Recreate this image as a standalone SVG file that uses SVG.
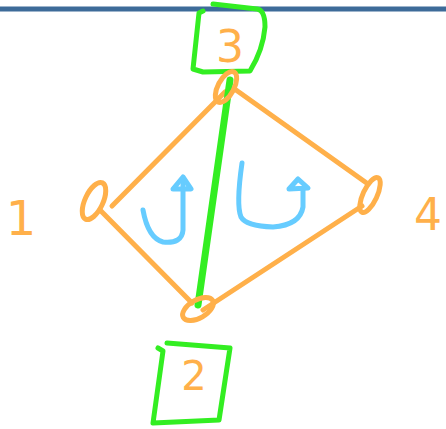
<svg xmlns="http://www.w3.org/2000/svg" width="446" height="429" viewBox="0 0 446 429">
<style>
.o{fill:none;stroke:#FFB04A;stroke-width:5;stroke-linecap:round;stroke-linejoin:round}
.g{fill:none;stroke:#33EE22;stroke-width:5;stroke-linecap:round;stroke-linejoin:round}
.b{fill:none;stroke:#66CCFF;stroke-width:5;stroke-linecap:round;stroke-linejoin:round}
.t{fill:#FFB04A;font-family:"DejaVu Sans",sans-serif}
</style>
<rect width="446" height="429" fill="#ffffff"/>
<line x1="0" y1="9" x2="446" y2="9" stroke="#3D6B99" stroke-width="5"/>
<g id="connectors">
<path class="o" d="M112,206 L225,92"/>
<path class="o" d="M100,210 L192,303"/>
<path class="o" d="M236,90 L368,184"/>
<path class="o" d="M362,206 L203,310"/>
<path d="M230,80 L198,305" fill="none" stroke="#33EE22" stroke-width="7" stroke-linecap="round"/>
</g>
<g id="node3">
<path class="g" d="M203,11 L199,13 L193,69 L203,72 L250,71 Q263,50 265,27 Q265,10 257,9 L213,4"/>
<text class="t" x="230" y="62" font-size="44" text-anchor="middle">3</text>
<ellipse class="o" cx="226" cy="87" rx="17" ry="8" transform="rotate(-62 226 87)"/>
</g>
<g id="node1">
<text class="t" x="21" y="235" font-size="48" text-anchor="middle">1</text>
<ellipse class="o" cx="94" cy="201" rx="20" ry="9" transform="rotate(-65 94 201)"/>
</g>
<g id="node4">
<text class="t" x="428" y="230" font-size="44" text-anchor="middle">4</text>
<ellipse class="o" cx="370" cy="195" rx="19" ry="7" transform="rotate(-65 370 195)"/>
</g>
<g id="node2">
<path class="g" d="M158,348 L163,351 L153,423 L219,420 L230,348 L167,343"/>
<text class="t" x="194" y="390" font-size="40" text-anchor="middle">2</text>
<ellipse class="o" cx="198" cy="309" rx="17" ry="9" transform="rotate(-30 198 309)"/>
</g>
<g id="rotations">
<path class="b" d="M143,210 Q148,238 163,242 Q182,244 183,230 L183,181"/>
<path class="b" d="M173,189 L183,177 L191,189 Z"/>
<path class="b" d="M242,163 Q236,205 241,217 Q246,226 273,227 Q300,225 303,207 L303,188"/>
<path class="b" d="M289,189 L298,179 L308,188 Z"/>
</g>
</svg>
